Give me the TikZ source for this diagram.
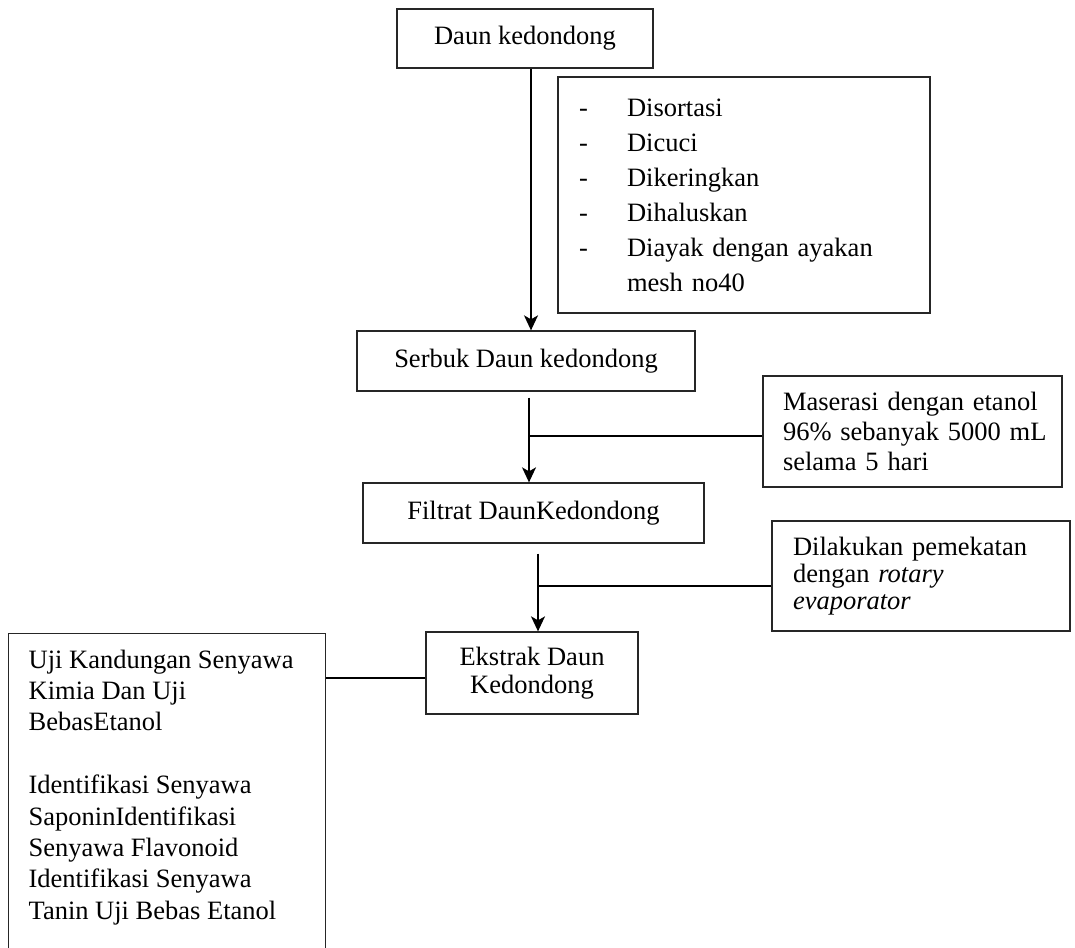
\documentclass[tikz,border=0pt]{standalone}
\usepackage{fontspec}
\setmainfont{Liberation Serif}
\usetikzlibrary{arrows.meta,calc}
\begin{document}
\begin{tikzpicture}[x=1pt,y=-1pt,
  box/.style={draw=black!85, line width=1.3pt, rectangle, inner sep=0pt,
    font=\fontsize{26.5}{31.4}\selectfont},
  conn/.style={line width=1.5pt, draw=black},
  arr/.style={conn, -{Stealth[length=15pt,width=14pt,inset=4pt]}}]
\useasboundingbox (0,0) rectangle (1075,947);

% boxes
\node[box, minimum width=256pt, minimum height=59pt] (daun) at (525,38.5) {Daun kedondong};

\node[box, minimum width=372pt, minimum height=236pt, inner xsep=21pt,
  text width=330pt, align=left, font=\fontsize{26.5}{35}\selectfont] (steps) at (744,195)
  {\makebox[48pt][l]{-}Disortasi\\
   \makebox[48pt][l]{-}Dicuci\\
   \makebox[48pt][l]{-}Dikeringkan\\
   \makebox[48pt][l]{-}Dihaluskan\\
   \makebox[48pt][l]{-}Diayak dengan ayakan\\
   \hspace*{48pt}mesh no40};

\node[box, minimum width=338pt, minimum height=60pt] (serbuk) at (526,361) {Serbuk Daun kedondong};

\node[box, minimum width=299pt, minimum height=111pt, inner xsep=20pt,
  text width=259pt, align=left, font=\fontsize{26.5}{30}\selectfont] (maserasi) at (912.5,431.5)
  {\mbox{Maserasi dengan etanol}\\\mbox{96\% sebanyak 5000 mL}\\\mbox{selama 5 hari}};

\node[box, minimum width=341pt, minimum height=60pt] (filtrat) at (533.5,513) {Filtrat DaunKedondong};

\node[box, minimum width=298pt, minimum height=110pt, inner xsep=21pt,
  text width=256pt, align=left, font=\fontsize{26.5}{27}\selectfont] (dilakukan) at (921,576)
  {\mbox{Dilakukan pemekatan}\\\mbox{dengan \textit{rotary}}\\\mbox{\textit{evaporator}}};

\node[box, minimum width=212pt, minimum height=82pt, align=center,
  font=\fontsize{26.5}{28}\selectfont] (ekstrak) at (532,673) {Ekstrak Daun\\Kedondong};

\node[box, anchor=north west, inner xsep=20pt, inner ysep=16pt] (uji) at (8,633)
  {\parbox[c][330pt][t]{277pt}{\raggedright
   Uji Kandungan Senyawa\\
   Kimia Dan Uji\\
   BebasEtanol\\[31.4pt]
   Identifikasi Senyawa\\
   SaponinIdentifikasi\\
   Senyawa Flavonoid\\
   Identifikasi Senyawa\\
   Tanin Uji Bebas Etanol}};

% connectors
\coordinate (c1) at (531,0);
\coordinate (c2) at (529,0);
\coordinate (c3) at (538,0);

\draw[arr] (daun.south -| c1) -- (serbuk.north -| c1);

\draw[arr] ($(serbuk.south -| c2)+(0,6)$) -- (filtrat.north -| c2);
\coordinate (b1) at ($(maserasi.west)+(0,4.5)$);
\draw[conn] (b1) -- (b1 -| c2);

\draw[arr] ($(filtrat.south -| c3)+(0,10)$) -- (ekstrak.north -| c3);
\coordinate (b2) at ($(dilakukan.west)+(0,10)$);
\draw[conn] (b2) -- (b2 -| c3);

\coordinate (b3) at ($(ekstrak.west)+(0,5)$);
\draw[conn] (b3) -- (b3 -| uji.east);
\end{tikzpicture}
\end{document}
